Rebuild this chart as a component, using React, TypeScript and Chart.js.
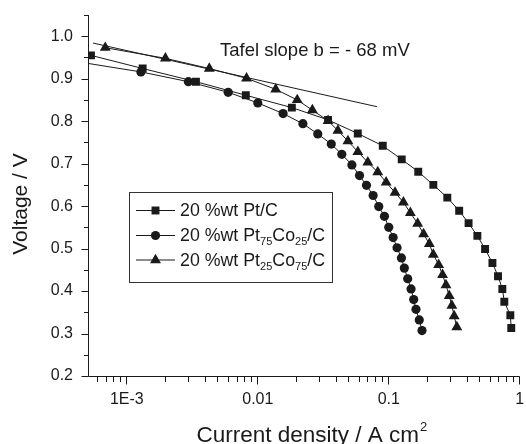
import React, { useEffect, useRef } from 'react';
import { Chart, registerables } from 'chart.js';

Chart.register(...registerables);

// ---- data ----
const ptcX = [5.32e-4, 1.32e-3, 3.37e-3, 8.1e-3, 0.0182, 0.0344, 0.058, 0.09, 0.1256, 0.168, 0.219, 0.28, 0.345, 0.407, 0.475, 0.544, 0.619, 0.683, 0.737, 0.763, 0.848, 0.862];
const ptcV = [0.955, 0.924, 0.893, 0.861, 0.832, 0.803, 0.771, 0.742, 0.71, 0.681, 0.65, 0.62, 0.589, 0.56, 0.53, 0.499, 0.466, 0.435, 0.405, 0.375, 0.343, 0.313];

const pt75X = [4.6e-4, 1.28e-3, 2.95e-3, 5.94e-3, 0.01, 0.0156, 0.0221, 0.0287, 0.0364, 0.0438, 0.0523, 0.0598, 0.0676, 0.076, 0.0839, 0.0927, 0.1, 0.108, 0.1157, 0.125, 0.1315, 0.1395, 0.148, 0.155, 0.1614, 0.171, 0.1795];
const pt75V = [0.938, 0.916, 0.893, 0.868, 0.843, 0.818, 0.794, 0.77, 0.746, 0.722, 0.697, 0.672, 0.649, 0.625, 0.599, 0.576, 0.55, 0.526, 0.502, 0.478, 0.454, 0.429, 0.405, 0.38, 0.357, 0.332, 0.307];

const pt25X = [6.84e-4, 1.97e-3, 4.26e-3, 8.2e-3, 0.0137, 0.02, 0.0261, 0.0344, 0.0409, 0.0488, 0.0581, 0.0692, 0.0824, 0.0955, 0.1117, 0.1294, 0.1462, 0.1663, 0.1846, 0.2042, 0.2189, 0.2405, 0.2576, 0.2735, 0.2897, 0.3034, 0.316, 0.331];
const pt25V = [0.973, 0.948, 0.924, 0.901, 0.875, 0.85, 0.826, 0.801, 0.778, 0.753, 0.728, 0.703, 0.68, 0.656, 0.632, 0.609, 0.584, 0.559, 0.534, 0.511, 0.486, 0.462, 0.438, 0.414, 0.389, 0.366, 0.341, 0.315];

const tafelX = [5.51e-4, 0.0815];
const tafelV = [0.984, 0.834];

const xMajorValues = [1e-3, 0.01, 0.1, 1];
const xMajorLabels = ['1E-3', '0.01', '0.1', '1'];
const yLabelValues = [0.2, 0.3, 0.4, 0.5, 0.6, 0.7, 0.8, 0.9, 1.0];

const X_MIN = 5.05e-4;
const X_MAX = 1;
const Y_MIN = 0.2;
const Y_MAX = 1.05;

const xTitle = 'Current density / A cm';
const xTitleSup = '2';
const yTitle = 'Voltage / V';
const tafelText = 'Tafel slope b = - 68 mV';

const legendItems = [
  { style: 'rect', parts: [{ t: '20 %wt Pt/C', sub: false }] },
  { style: 'circle', parts: [{ t: '20 %wt Pt', sub: false }, { t: '75', sub: true }, { t: 'Co', sub: false }, { t: '25', sub: true }, { t: '/C', sub: false }] },
  { style: 'triangle', parts: [{ t: '20 %wt Pt', sub: false }, { t: '25', sub: true }, { t: 'Co', sub: false }, { t: '75', sub: true }, { t: '/C', sub: false }] },
];

const FONT = '"Liberation Sans", Arial, Helvetica, sans-serif';
const INK = '#1a1a1a';

function xTickList(): number[] {
  const out: number[] = [];
  for (let e = -4; e <= 0; e++) {
    for (let m = 1; m <= 9; m++) {
      const v = m * Math.pow(10, e);
      if (v >= X_MIN * 0.9999 && v <= X_MAX * 1.0001) out.push(v);
    }
  }
  return out;
}
function yTickList(): number[] {
  const out: number[] = [];
  for (let i = 0; i <= 17; i++) out.push(Math.round((0.2 + i * 0.05) * 100) / 100);
  return out.filter((v) => v <= Y_MAX + 1e-9);
}

function toPts(xs: number[], ys: number[]) {
  return xs.map((x, i) => ({ x, y: ys[i] }));
}

function drawMarker(ctx: CanvasRenderingContext2D, style: string, x: number, y: number, r: number) {
  ctx.beginPath();
  if (style === 'rect') {
    const s = r * Math.SQRT1_2;
    ctx.rect(x - s, y - s, 2 * s, 2 * s);
  } else if (style === 'circle') {
    ctx.arc(x, y, r, 0, Math.PI * 2);
  } else {
    ctx.moveTo(x, y - r);
    ctx.lineTo(x + r * Math.sin((2 * Math.PI) / 3), y - r * Math.cos((2 * Math.PI) / 3));
    ctx.lineTo(x + r * Math.sin((4 * Math.PI) / 3), y - r * Math.cos((4 * Math.PI) / 3));
    ctx.closePath();
  }
  ctx.fill();
}

const decorPlugin = {
  id: 'decor',
  afterDraw(chart: any) {
    const ctx: CanvasRenderingContext2D = chart.ctx;
    const xs = chart.scales.x;
    const ys = chart.scales.y;
    const a = chart.chartArea;
    ctx.save();
    ctx.strokeStyle = INK;
    ctx.fillStyle = INK;
    ctx.lineWidth = 1;

    // axis lines
    ctx.beginPath();
    ctx.moveTo(Math.round(a.left) + 0.5, a.top);
    ctx.lineTo(Math.round(a.left) + 0.5, Math.round(a.bottom) + 0.5);
    ctx.lineTo(a.right, Math.round(a.bottom) + 0.5);
    ctx.stroke();

    // x ticks
    ctx.beginPath();
    xs.ticks.forEach((t: any) => {
      const lg = Math.log10(t.value);
      const major = Math.abs(lg - Math.round(lg)) < 1e-6;
      const px = Math.round(xs.getPixelForValue(t.value)) - 0.5;
      const y0 = Math.round(a.bottom) + 0.5;
      ctx.moveTo(px, y0);
      ctx.lineTo(px, y0 + (major ? 8 : 5.5));
    });
    ctx.stroke();

    // y ticks
    ctx.beginPath();
    ys.ticks.forEach((t: any) => {
      const major = Math.abs(t.value * 10 - Math.round(t.value * 10)) < 1e-6;
      const py = Math.round(ys.getPixelForValue(t.value)) + 0.5;
      const x0 = Math.round(a.left) + 0.5;
      ctx.moveTo(x0, py);
      ctx.lineTo(x0 - (major ? 7 : 4.5), py);
    });
    ctx.stroke();

    // Tafel text
    ctx.font = `18.5px ${FONT}`;
    ctx.textAlign = 'left';
    ctx.textBaseline = 'alphabetic';
    ctx.fillText(tafelText, 220, 56);

    // x title
    ctx.font = `22.5px ${FONT}`;
    ctx.fillText(xTitle, 196.5, 441.5);
    const w = ctx.measureText(xTitle).width;
    ctx.font = `13px ${FONT}`;
    ctx.fillText(xTitleSup, 196.5 + w + 1, 431);

    // y title
    ctx.save();
    ctx.translate(26.5, 204);
    ctx.rotate(-Math.PI / 2);
    ctx.font = `21px ${FONT}`;
    ctx.textAlign = 'center';
    ctx.fillText(yTitle, 0, 0);
    ctx.restore();

    // legend
    const L = 129.5, T = 192.5, R = 332.5, B = 282.5;
    ctx.fillStyle = '#ffffff';
    ctx.fillRect(L, T, R - L, B - T);
    ctx.strokeStyle = '#333';
    ctx.strokeRect(L, T, R - L, B - T);
    ctx.strokeStyle = INK;
    ctx.fillStyle = INK;
    const rows = [210, 235, 259.5];
    const radii: Record<string, number> = { rect: 5.6, circle: 4.6, triangle: 6.3 };
    legendItems.forEach((it, i) => {
      const ry = rows[i];
      ctx.beginPath();
      ctx.moveTo(136, ry + 0.5);
      ctx.lineTo(175, ry + 0.5);
      ctx.stroke();
      drawMarker(ctx, it.style, 155.5, ry + 0.5, radii[it.style]);
      let x = 180;
      it.parts.forEach((p) => {
        ctx.font = p.sub ? `11px ${FONT}` : `17.8px ${FONT}`;
        ctx.fillText(p.t, x, ry + 6 + (p.sub ? 4 : 0));
        x += ctx.measureText(p.t).width;
      });
    });

    ctx.restore();
  },
};

export default function App() {
  const ref = useRef<HTMLCanvasElement | null>(null);
  useEffect(() => {
    if (!ref.current) return;
    const ds = (label: string, xs: number[], vs: number[], style: string, r: number) => ({
      label,
      data: toPts(xs, vs),
      borderColor: INK,
      backgroundColor: INK,
      borderWidth: 1,
      pointStyle: style,
      pointRadius: r,
      pointBorderWidth: 0,
      pointBackgroundColor: INK,
      showLine: true,
      tension: 0,
      clip: 0,
    });
    const chart = new Chart(ref.current, {
      type: 'scatter',
      data: {
        datasets: [
          { ...ds('Tafel', tafelX, tafelV, 'circle', 0) },
          ds('20 %wt Pt/C', ptcX, ptcV, 'rect', 5.6),
          ds('20 %wt Pt75Co25/C', pt75X, pt75V, 'circle', 4.6),
          ds('20 %wt Pt25Co75/C', pt25X, pt25V, 'triangle', 6.3),
        ] as any,
      },
      options: {
        animation: false,
        responsive: false,
        devicePixelRatio: 1,
        layout: { padding: { top: 15, right: 2, left: 0, bottom: 0 } },
        plugins: { legend: { display: false }, tooltip: { enabled: false }, title: { display: false } },
        font: { family: FONT },
        scales: {
          x: {
            type: 'logarithmic',
            min: X_MIN,
            max: X_MAX,
            grid: { display: false, drawTicks: false },
            border: { display: false },
            afterBuildTicks: (s: any) => {
              s.ticks = xTickList().map((v) => ({ value: v }));
            },
            afterFit: (s: any) => {
              s.height = 68;
              s.paddingLeft = 0;
              s.paddingRight = 0;
            },
            ticks: {
              autoSkip: false,
              maxRotation: 0,
              padding: 14,
              color: INK,
              font: { family: FONT, size: 16 },
              callback: (v: any) => {
                const i = xMajorValues.findIndex((m) => Math.abs(Math.log10(m) - Math.log10(Number(v))) < 1e-6);
                return i >= 0 ? xMajorLabels[i] : '';
              },
            },
          },
          y: {
            type: 'linear',
            min: Y_MIN,
            max: Y_MAX,
            grid: { display: false, drawTicks: false },
            border: { display: false },
            afterBuildTicks: (s: any) => {
              s.ticks = yTickList().map((v) => ({ value: v }));
            },
            afterFit: (s: any) => {
              s.width = 88;
              s.paddingTop = 0;
              s.paddingBottom = 0;
            },
            ticks: {
              autoSkip: false,
              padding: 15,
              color: INK,
              font: { family: FONT, size: 16 },
              callback: (v: any) => {
                const n = Number(v);
                const hit = yLabelValues.find((m) => Math.abs(m - n) < 1e-6);
                return hit !== undefined ? hit.toFixed(1) : '';
              },
            },
          },
        },
      } as any,
      plugins: [decorPlugin],
    });
    return () => chart.destroy();
  }, []);
  return (
    <div style={{ position: 'absolute', left: 0, top: 0, width: 526, height: 444, background: '#fff' }}>
      <canvas ref={ref} width={526} height={444} style={{ display: 'block', width: 526, height: 444 }} />
    </div>
  );
}
